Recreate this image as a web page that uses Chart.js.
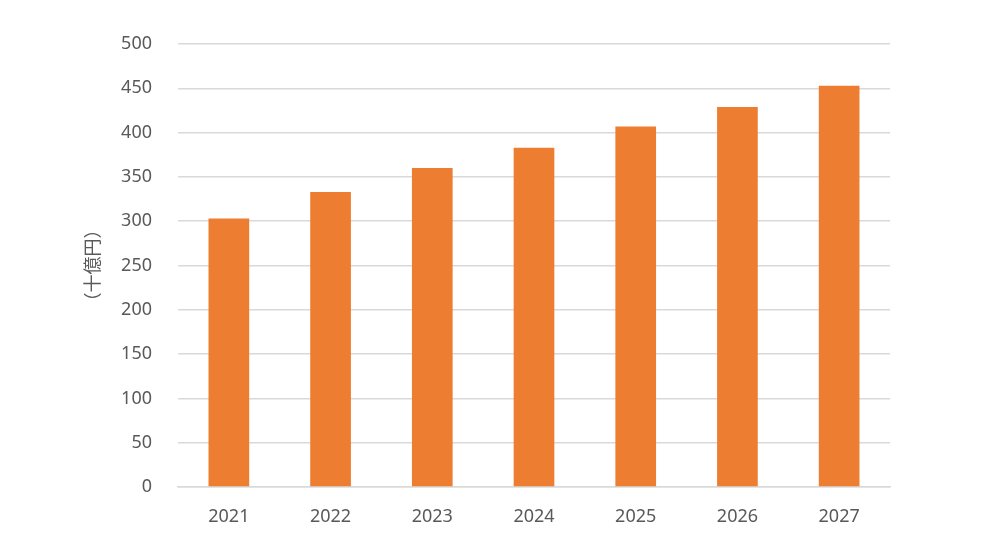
<!DOCTYPE html>
<html>
<head>
<meta charset="utf-8">
<script src="https://cdn.jsdelivr.net/npm/chart.js@4"></script>
<style>
    html, body { margin: 0; padding: 0; background: white; }
    #wrap { width: 1000px; height: 547px; }
</style>
</head>
<body>
<div id="wrap"><canvas id="chart"></canvas></div>
<script>
const years = ['2021', '2022', '2023', '2024', '2025', '2026', '2027'];
const marketSize = [303, 333, 360, 383, 407, 429, 453];
const yTicks = [0, 50, 100, 150, 200, 250, 300, 350, 400, 450, 500];
const yTitle = '（十億円）';

const plugin = {
    id: 'custom_canvas_background_color',
    beforeDraw: (chart) => {
        const ctx = chart.canvas.getContext('2d');
        ctx.save();
        ctx.globalCompositeOperation = 'destination-over';
        ctx.fillStyle = 'white';
        ctx.fillRect(0, 0, chart.width, chart.height);
        ctx.restore();
    }
};

new Chart(document.getElementById('chart'), {
    type: 'bar',
    plugins: [plugin],
    data: {
        labels: years,
        datasets: [{
            data: marketSize,
            backgroundColor: '#ED7D31',
            barPercentage: 0.4,
            categoryPercentage: 1.0
        }]
    },
    options: {
        responsive: true,
        maintainAspectRatio: false,
        animation: false,
        layout: {
            padding: { left: 80, top: 44, right: 110, bottom: 23 }
        },
        scales: {
            y: {
                min: 0,
                max: 500,
                afterBuildTicks: (axis) => {
                    axis.ticks = yTicks.map(v => ({ value: v }));
                },
                afterFit: (axis) => { axis.width = 98; },
                border: { display: false },
                grid: {
                    color: '#d9d9d9',
                    lineWidth: 1.5,
                    drawTicks: false
                },
                ticks: {
                    color: '#595959',
                    padding: 26,
                    font: { family: 'Noto Sans', size: 18 }
                },
                title: {
                    display: true,
                    text: yTitle,
                    color: '#595959',
                    padding: { top: 1, bottom: 0 },
                    font: { family: 'Noto Sans CJK JP', size: 18 }
                }
            },
            x: {
                border: { display: true, color: '#d9d9d9', width: 1.5 },
                grid: { display: false, drawTicks: false },
                afterFit: (axis) => { axis.height = 37; },
                ticks: {
                    color: '#595959',
                    padding: 19,
                    font: { family: 'Noto Sans', size: 18 }
                }
            }
        },
        plugins: {
            legend: { display: false },
            tooltip: { enabled: false }
        }
    }
});
</script>
</body>
</html>
